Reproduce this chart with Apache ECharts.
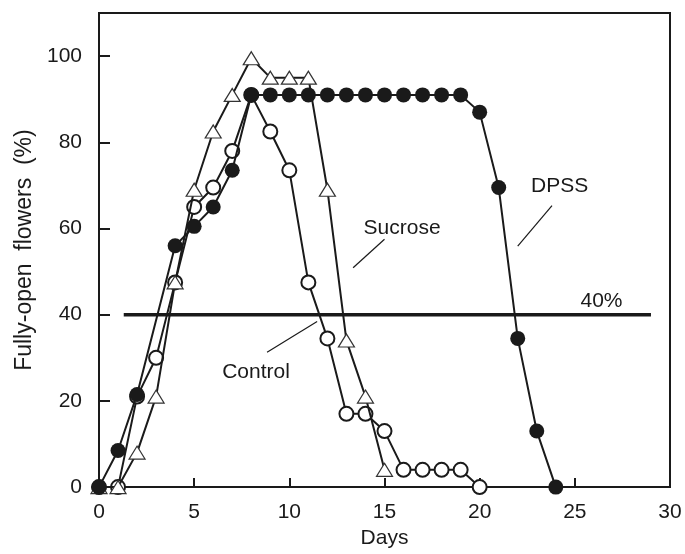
<!DOCTYPE html>
<html>
<head>
<meta charset="utf-8">
<title>Fully-open flowers</title>
<script src="https://cdn.jsdelivr.net/npm/echarts@6/dist/echarts.min.js"></script>
<style>
  html, body { margin: 0; padding: 0; background: #fff; }
  #chart { width: 685px; height: 554px; }
</style>
</head>
<body>
<div id="chart"></div>
<script>
  // days after treatment and % fully-open flowers
  const controlDays = [0, 1, 2, 3, 4, 5, 6, 7, 8, 9, 10, 11, 12, 13, 14, 15, 16, 17, 18, 19, 20];
  const controlVals = [0, 0, 21, 30, 47.5, 65, 69.5, 78, 91, 82.5, 73.5, 47.5, 34.5, 17, 17, 13, 4, 4, 4, 4, 0];

  const sucroseDays = [0, 1, 2, 3, 4, 5, 6, 7, 8, 9, 10, 11, 12, 13, 14, 15];
  const sucroseVals = [0, 0, 8, 21, 47.5, 69, 82.5, 91, 99.5, 95, 95, 95, 69, 34, 21, 4];

  const dpssDays = [0, 1, 2, 4, 5, 6, 7, 8, 9, 10, 11, 12, 13, 14, 15, 16, 17, 18, 19, 20, 21, 22, 23, 24];
  const dpssVals = [0, 8.5, 21.5, 56, 60.5, 65, 73.5, 91, 91, 91, 91, 91, 91, 91, 91, 91, 91, 91, 91, 87, 69.5, 34.5, 13, 0];

  // 40% reference line
  const refLineX = [1.3, 29];
  const refLineY = 40;

  // annotation labels and leader lines, in data units
  const notes = [
    { text: 'Sucrose', at: [13.9, 60], align: 'left', line: [[13.35, 50.9], [15.0, 57.5]] },
    { text: 'Control', at: [8.25, 26.7], align: 'center', line: [[8.83, 31.3], [11.46, 38.4]] },
    { text: 'DPSS', at: [24.2, 69.9], align: 'center', line: [[23.8, 65.3], [22.0, 55.9]] },
    { text: '40%', at: [26.4, 43.2], align: 'center', line: null }
  ];

  const FONT = 'Liberation Sans';
  const INK = '#1a1a1a';

  const zip = (xs, ys) => xs.map((x, i) => [x, ys[i]]);

  const chart = echarts.init(document.getElementById('chart'));

  const option = {
    animation: false,
    backgroundColor: '#fff',
    grid: {
      left: 99, right: 15, top: 13, bottom: 59,
      show: true, borderColor: INK, borderWidth: 2, backgroundColor: 'transparent'
    },
    xAxis: {
      type: 'value',
      min: 0, max: 30, interval: 5,
      name: 'Days',
      nameLocation: 'middle',
      nameGap: 37,
      nameTextStyle: { fontFamily: FONT, fontSize: 21, color: INK },
      axisLine: { lineStyle: { color: INK, width: 2 } },
      axisTick: { inside: true, length: 9, lineStyle: { color: INK, width: 2 } },
      axisLabel: { margin: 15, fontFamily: FONT, fontSize: 21, color: INK },
      splitLine: { show: false }
    },
    yAxis: {
      type: 'value',
      min: 0, max: 110, interval: 20,
      name: 'Fully-open  flowers  (%)',
      nameLocation: 'middle',
      nameGap: 61,
      nameTextStyle: { fontFamily: FONT, fontSize: 23, color: INK },
      axisLine: { lineStyle: { color: INK, width: 2 } },
      axisTick: { inside: true, length: 11, lineStyle: { color: INK, width: 2 } },
      axisLabel: { margin: 17, fontFamily: FONT, fontSize: 21, color: INK, showMaxLabel: false },
      splitLine: { show: false }
    },
    series: [
      {
        name: '40%',
        type: 'line',
        data: refLineX.map(x => [x, refLineY]),
        showSymbol: false,
        lineStyle: { color: INK, width: 3.5 },
        z: 1
      },
      {
        name: 'Control',
        type: 'line',
        data: zip(controlDays, controlVals),
        symbol: 'circle',
        symbolSize: 14,
        lineStyle: { color: INK, width: 2 },
        itemStyle: { color: '#fff', borderColor: INK, borderWidth: 2 },
        z: 2
      },
      {
        name: 'Sucrose',
        type: 'line',
        data: zip(sucroseDays, sucroseVals),
        symbol: 'triangle',
        symbolSize: [16, 13],
        lineStyle: { color: INK, width: 2 },
        itemStyle: { color: '#fff', borderColor: '#333', borderWidth: 1.2 },
        z: 3
      },
      {
        name: 'DPSS',
        type: 'line',
        data: zip(dpssDays, dpssVals),
        symbol: 'circle',
        symbolSize: 15,
        lineStyle: { color: INK, width: 2 },
        itemStyle: { color: INK, borderColor: INK, borderWidth: 0 },
        z: 4
      }
    ]
  };

  chart.setOption(option);

  // place the annotations through the chart's own coordinate conversion
  const graphics = [];
  notes.forEach(n => {
    const p = chart.convertToPixel({ gridIndex: 0 }, n.at);
    graphics.push({
      type: 'text',
      x: p[0], y: p[1],
      style: {
        text: n.text, fontFamily: FONT, fontSize: 21, fill: INK,
        align: n.align, verticalAlign: 'middle'
      },
      z: 10
    });
    if (n.line) {
      const a = chart.convertToPixel({ gridIndex: 0 }, n.line[0]);
      const b = chart.convertToPixel({ gridIndex: 0 }, n.line[1]);
      graphics.push({
        type: 'line',
        shape: { x1: a[0], y1: a[1], x2: b[0], y2: b[1] },
        style: { stroke: INK, lineWidth: 1.2 },
        z: 10
      });
    }
  });
  chart.setOption({ graphic: graphics });
</script>
</body>
</html>
